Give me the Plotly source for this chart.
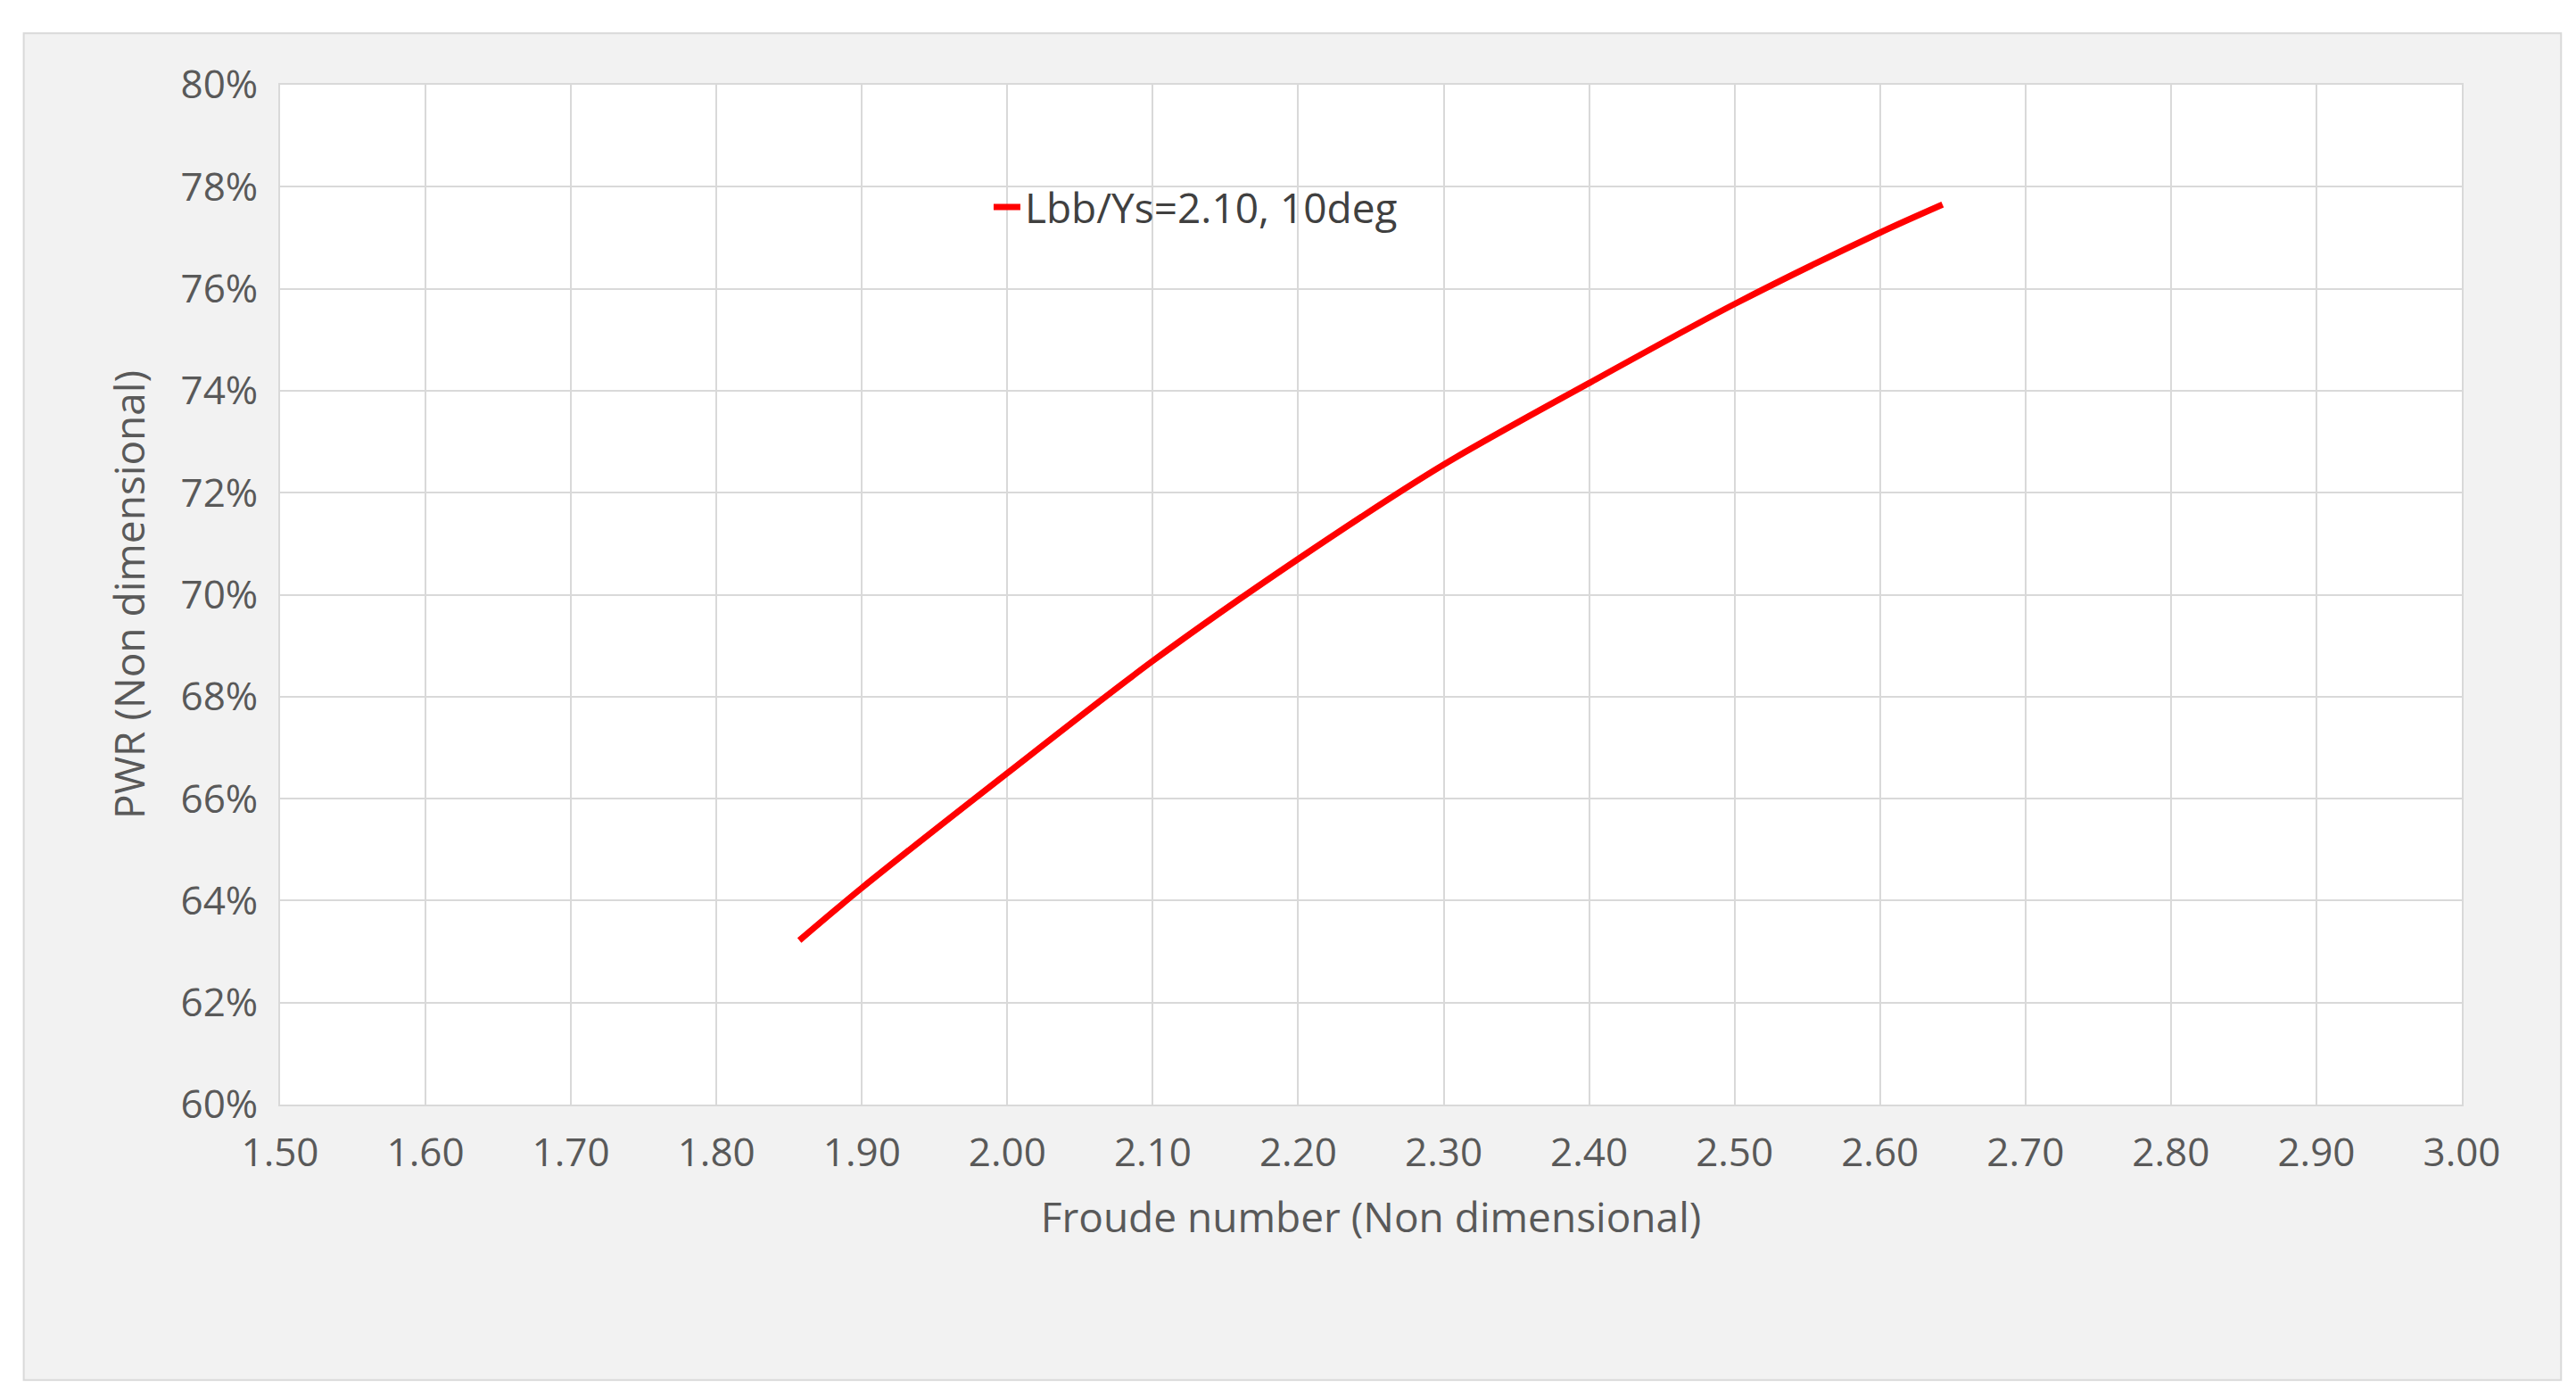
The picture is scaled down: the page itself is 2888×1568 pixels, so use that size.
import plotly.graph_objects as go

froude = [1.857, 1.90, 2.00, 2.10, 2.20, 2.30, 2.40, 2.50, 2.60, 2.643]
pwr = [0.6322, 0.6425, 0.6650, 0.6870, 0.7070, 0.7255, 0.7415, 0.7570, 0.7710, 0.7765]
series_name = "Lbb/Ys=2.10, 10deg"

fig = go.Figure()
fig.add_trace(go.Scatter(x=froude, y=pwr, mode="lines", name=series_name,
                         line=dict(color="#ff0000", width=7, shape="spline", smoothing=0.8)))
font = dict(family="Open Sans, Liberation Sans, sans-serif", size=44, color="#595959")
fig.update_layout(
    width=2888, height=1568,
    margin=dict(l=306, r=136, t=87, b=338),
    paper_bgcolor="white", plot_bgcolor="white",
    font=font,
    showlegend=True,
    legend=dict(x=0.325, y=0.88, xanchor="left", yanchor="middle",
                bgcolor="rgba(0,0,0,0)", font=dict(size=46, color="#404040")),
    xaxis=dict(range=[1.5, 3.0], dtick=0.1, tickformat=".2f", showgrid=True,
               gridcolor="#d9d9d9", gridwidth=2, zeroline=False, showline=True,
               linecolor="#d9d9d9", linewidth=2, mirror=True, ticks="",
               title=dict(text="Froude number (Non dimensional)", standoff=30,
                          font=dict(size=46, color="#595959")), ticklabelstandoff=14),
    yaxis=dict(range=[0.60, 0.80], dtick=0.02, tickformat=".0%", showgrid=True,
               gridcolor="#d9d9d9", gridwidth=2, zeroline=False, showline=True,
               linecolor="#d9d9d9", linewidth=2, mirror=True, ticks="",
               title=dict(text="PWR (Non dimensional)", standoff=25,
                          font=dict(size=46, color="#595959")), ticklabelstandoff=14),
    shapes=[dict(type="rect", xref="paper", yref="paper", layer="below",
                 x0=-0.1175, x1=1.0455, y0=-0.2702, y1=1.0505,
                 fillcolor="#f2f2f2", line=dict(color="#d9d9d9", width=2)),
            dict(type="rect", xref="paper", yref="paper", layer="below",
                 x0=0, x1=1, y0=0, y1=1, fillcolor="white", line=dict(width=0))],
)
fig.write_html("out.html")
